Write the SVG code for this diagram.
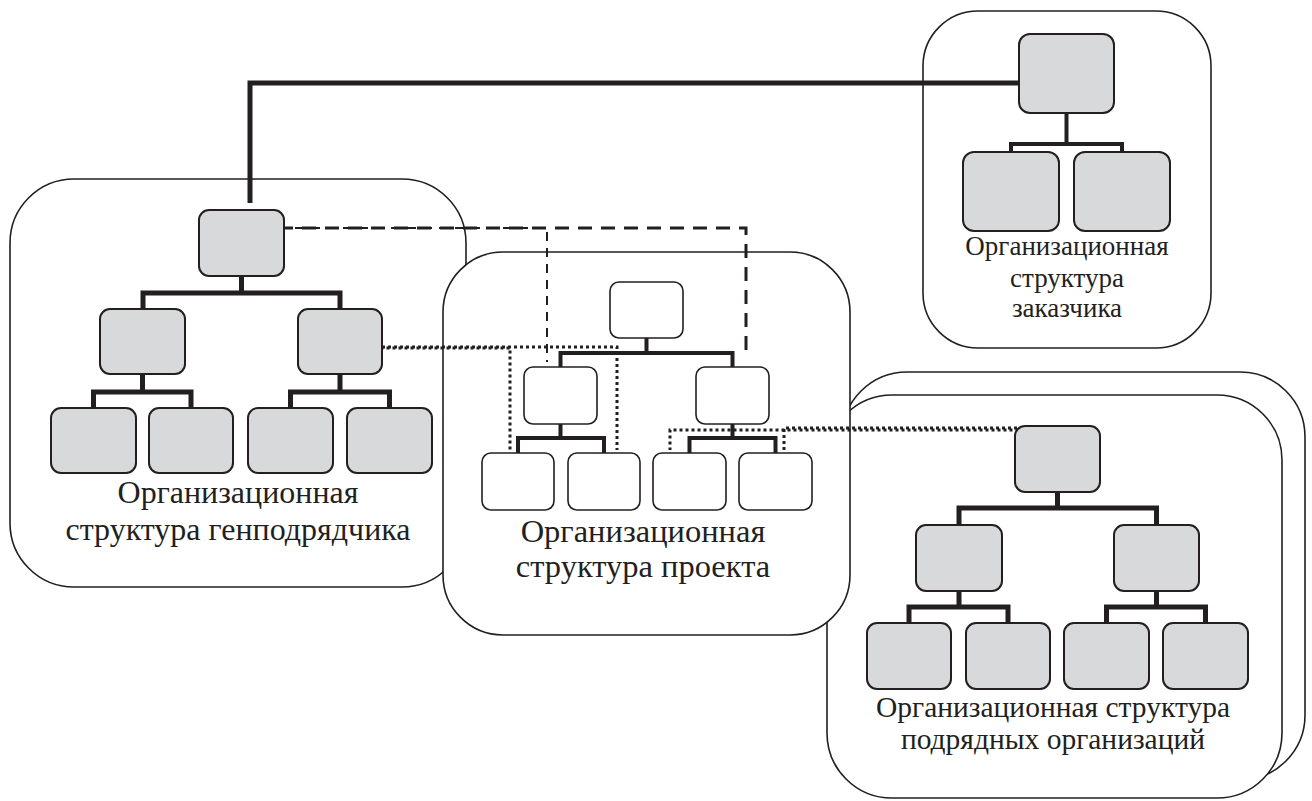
<svg xmlns="http://www.w3.org/2000/svg" width="1312" height="801" viewBox="0 0 1312 801">
<style>
.cont{fill:#fff;stroke:#231f20;stroke-width:1.6}
.g{fill:#d8d9da;stroke:#231f20;stroke-width:2}
.w{fill:#fff;stroke:#231f20;stroke-width:1.6}
.bar{fill:none;stroke:#231f20;stroke-width:5;stroke-linejoin:miter;stroke-linecap:butt}
.bar4{fill:none;stroke:#231f20;stroke-width:4}
.bar3{fill:none;stroke:#231f20;stroke-width:4}
.dash{fill:none;stroke:#231f20;stroke-width:3;stroke-dasharray:14 9}
.dashthin{fill:none;stroke:#231f20;stroke-width:2;stroke-dasharray:9 7}
.dot{fill:none;stroke:#231f20;stroke-width:3;stroke-dasharray:3 3}
.lbl{font-family:'Liberation Serif','Times New Roman','DejaVu Serif',serif;fill:#231f20;text-anchor:middle}
</style>
<rect width="1312" height="801" fill="#fff"/>
<g id="containers">
<g id="gen-container"><rect class="cont" x="10" y="179" width="456" height="408" rx="64"/></g>
<g id="customer-container"><rect class="cont" x="923" y="11" width="288" height="337" rx="55"/></g>
<g id="sub-container-back"><rect class="cont" x="842" y="372" width="463" height="408" rx="65"/></g>
<g id="sub-container"><rect class="cont" x="827" y="395" width="455" height="403" rx="65"/></g>
<g id="project-container"><rect class="cont" x="443" y="252" width="407" height="383" rx="60"/></g>
</g>
<g id="connectors">
<path class="bar" d="M1019,83 H250 V203"/>
<path class="bar" d="M241.5,276 V293 M143,311 V293 H340 V311 M142.5,374 V392 M93.5,410 V392 H191 V410 M340,374 V392 M290.5,410 V392 H389.5 V410"/>
<path class="bar4" d="M646.5,338 V353 M560.5,369 V353 H732.5 V369 M560.5,424 V438 M518,455 V438 H604 V455 M732.5,424 V438 M689.5,455 V438 H775.5 V455"/>
<path class="bar" d="M1057.5,492 V508 M959,527 V508 H1156.5 V527 M959,591 V607 M909,625 V607 H1008 V625 M1156.5,591 V607 M1106.5,625 V607 H1205.5 V625"/>
<path class="bar3" d="M1066.5,113 V144 M1011,154 V144 H1122 V154"/>
<path class="dash" d="M279,228 H746 V357"/>
<path class="dashthin" d="M279,228 H547 V362"/>
<path class="dot" d="M382,347 H617 V450"/>
<path class="dot" d="M382,348 H510 V450" stroke-dashoffset="1.5"/>
<path class="dot" d="M1023,428 H784 V450"/>
<path class="dot" d="M1023,430 H670 V450" stroke-dashoffset="1.5"/>
</g>
<g id="gen-top"><rect class="g" x="199" y="210" width="85" height="66" rx="10"/></g>
<g id="gen-l2a"><rect class="g" x="100" y="309" width="85" height="65" rx="10"/></g>
<g id="gen-l2b"><rect class="g" x="298" y="309" width="84" height="65" rx="10"/></g>
<g id="gen-l3a"><rect class="g" x="51" y="408" width="85" height="65" rx="10"/></g>
<g id="gen-l3b"><rect class="g" x="149" y="408" width="84" height="65" rx="10"/></g>
<g id="gen-l3c"><rect class="g" x="248" y="408" width="85" height="65" rx="10"/></g>
<g id="gen-l3d"><rect class="g" x="347" y="408" width="85" height="65" rx="10"/></g>
<g id="gen-label"><text class="lbl" font-size="32" x="238" y="503">Организационная</text><text class="lbl" font-size="32" x="238" y="540">структура генподрядчика</text></g>
<g id="proj-top"><rect class="w" x="610" y="282" width="73" height="56" rx="9"/></g>
<g id="proj-l2a"><rect class="w" x="524" y="367" width="73" height="57" rx="9"/></g>
<g id="proj-l2b"><rect class="w" x="696" y="367" width="73" height="57" rx="9"/></g>
<g id="proj-l3a"><rect class="w" x="482" y="453" width="72" height="57" rx="9"/></g>
<g id="proj-l3b"><rect class="w" x="568" y="453" width="72" height="57" rx="9"/></g>
<g id="proj-l3c"><rect class="w" x="653" y="453" width="73" height="57" rx="9"/></g>
<g id="proj-l3d"><rect class="w" x="739" y="453" width="73" height="57" rx="9"/></g>
<g id="proj-label"><text class="lbl" font-size="32.5" x="643" y="542">Организационная</text><text class="lbl" font-size="32.5" x="643" y="577">структура проекта</text></g>
<g id="sub-top"><rect class="g" x="1015" y="426" width="85" height="66" rx="10"/></g>
<g id="sub-l2a"><rect class="g" x="916" y="525" width="86" height="66" rx="10"/></g>
<g id="sub-l2b"><rect class="g" x="1114" y="525" width="85" height="66" rx="10"/></g>
<g id="sub-l3a"><rect class="g" x="867" y="623" width="84" height="66" rx="10"/></g>
<g id="sub-l3b"><rect class="g" x="966" y="623" width="84" height="66" rx="10"/></g>
<g id="sub-l3c"><rect class="g" x="1064" y="623" width="85" height="66" rx="10"/></g>
<g id="sub-l3d"><rect class="g" x="1163" y="623" width="85" height="66" rx="10"/></g>
<g id="sub-label"><text class="lbl" font-size="29.5" x="1053" y="717">Организационная структура</text><text class="lbl" font-size="29.5" x="1053" y="749">подрядных организаций</text></g>
<g id="cust-top"><rect class="g" x="1019" y="34" width="95" height="79" rx="11"/></g>
<g id="cust-l2a"><rect class="g" x="963" y="152" width="96" height="79" rx="11"/></g>
<g id="cust-l2b"><rect class="g" x="1074" y="152" width="96" height="79" rx="11"/></g>
<g id="cust-label"><text class="lbl" font-size="27" x="1067" y="255">Организационная</text><text class="lbl" font-size="27" x="1067" y="287">структура</text><text class="lbl" font-size="27" x="1067" y="317">заказчика</text></g>
</svg>
